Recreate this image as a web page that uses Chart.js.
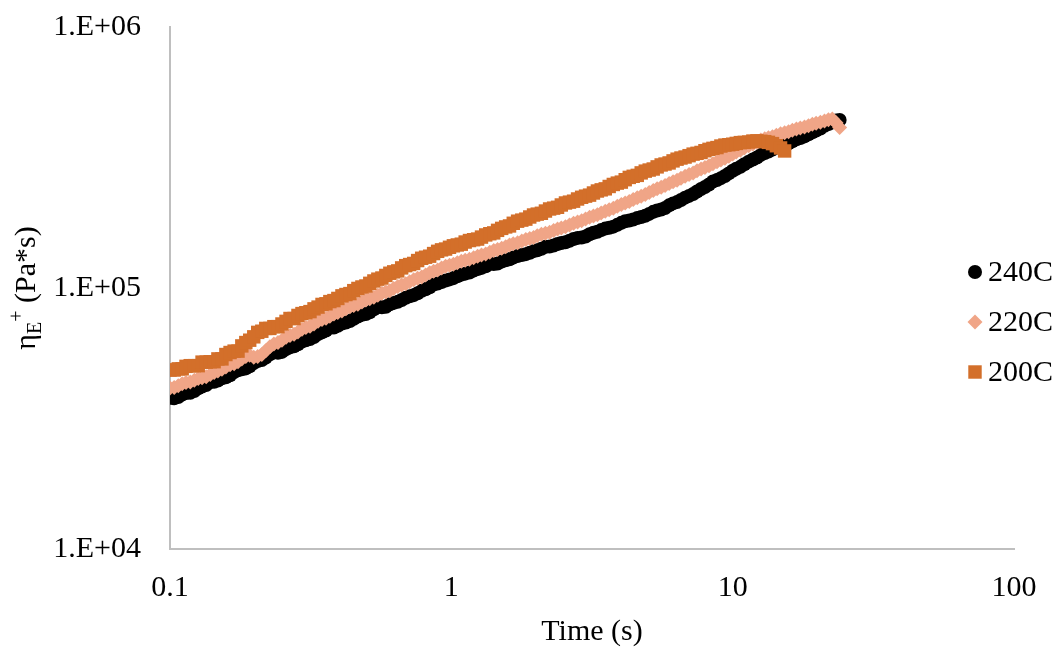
<!DOCTYPE html>
<html>
<head>
<meta charset="utf-8">
<script src="https://cdn.jsdelivr.net/npm/chart.js@4.4.1/dist/chart.umd.min.js"></script>
<style>
  html, body { margin: 0; padding: 0; background: #fff; }
</style>
</head>
<body>
<canvas id="chart" width="1061" height="649"></canvas>
<script>
const times = [
  0.1, 0.1035, 0.107, 0.1105, 0.114, 0.118, 0.122, 0.126, 0.13, 0.1345, 0.139, 0.1435, 0.148, 0.153, 0.158, 0.1635, 0.169, 0.1745, 0.18, 0.186,
  0.192, 0.1985, 0.205, 0.212, 0.219, 0.2265, 0.234, 0.242, 0.25, 0.2585, 0.267, 0.276, 0.285, 0.2945, 0.304, 0.3145, 0.325, 0.336, 0.347, 0.3585,
  0.37, 0.3825, 0.395, 0.4085, 0.422, 0.436, 0.45, 0.4655, 0.481, 0.497, 0.513, 0.5305, 0.548, 0.5665, 0.585, 0.6045, 0.624, 0.645, 0.666, 0.6885,
  0.711, 0.735, 0.759, 0.7845, 0.81, 0.8375, 0.865, 0.894, 0.923, 0.954, 0.985, 1.017, 1.05, 1.085, 1.12, 1.16, 1.2, 1.24, 1.28, 1.325,
  1.37, 1.415, 1.46, 1.51, 1.56, 1.61, 1.66, 1.72, 1.78, 1.84, 1.9, 1.96, 2.02, 2.09, 2.16, 2.235, 2.31, 2.385, 2.46, 2.545,
  2.63, 2.72, 2.81, 2.905, 3.0, 3.1, 3.2, 3.305, 3.41, 3.525, 3.64, 3.765, 3.89, 4.02, 4.15, 4.29, 4.43, 4.58, 4.73, 4.89,
  5.05, 5.22, 5.39, 5.57, 5.75, 5.945, 6.14, 6.345, 6.55, 6.775, 7.0, 7.235, 7.47, 7.72, 7.97, 8.24, 8.51, 8.795, 9.08, 9.385,
  9.69, 10.0, 10.3, 10.65, 11.0, 11.4, 11.8, 12.2, 12.6, 13.0, 13.4, 13.85, 14.3, 14.8, 15.3, 15.8, 16.3, 16.85, 17.4, 18.0,
  18.6, 19.2, 19.8, 20.5, 21.2, 21.9, 22.6, 23.3, 24.0
];
const visc240 = [
  38000, 37800, 38200, 39100, 39600, 39700, 40300, 41300, 41900, 42500,
  43600, 43700, 44200, 45100, 45500, 46300, 47600, 48400, 48800, 49200,
  50100, 51600, 52500, 53000, 54100, 55700, 56800, 56500, 56900, 58300,
  59200, 59800, 60900, 62300, 63100, 63700, 64900, 66600, 67600, 68700,
  70400, 70600, 71600, 73100, 73800, 74700, 76200, 77800, 78900, 79500,
  80700, 82900, 84600, 84300, 84800, 86600, 87700, 88500, 89900, 91700,
  92900, 93900, 95500, 97500, 98900, 100600, 103200, 104000, 105400, 106900,
  107900, 109100, 110900, 112500, 113500, 114700, 116700, 118300, 119400, 121200,
  123800, 123500, 124100, 126200, 127600, 128900, 130900, 132600, 133700, 134800,
  136500, 138400, 139600, 141300, 143800, 144300, 145500, 147400, 148600, 149800,
  151700, 154000, 155600, 156200, 157600, 160700, 162900, 164300, 166700, 168900,
  170200, 171800, 174600, 177700, 180100, 181200, 182800, 185300, 187100, 189200,
  192300, 195800, 198200, 199800, 202600, 207300, 210900, 213400, 217300, 221900,
  225400, 229100, 234400, 239600, 243800, 249100, 256000, 259200, 263600, 268700,
  274800, 281200, 286400, 291200, 297900, 304800, 310500, 316100, 323600, 329200,
  333400, 339300, 347000, 351500, 354000, 358600, 364800, 371200, 375800, 381000,
  388200, 395300, 400900, 408400, 418000, 425100, 431000, 437900, 440600
];
const visc220 = [
  41400, 41600, 42200, 43000, 43400, 43600, 44300, 45000, 45300, 45700,
  46600, 47500, 48100, 48800, 49800, 50800, 51300, 52200, 53500, 54600,
  55200, 54300, 54700, 55600, 57500, 59600, 61000, 61800, 63100, 64700,
  65800, 66500, 67900, 69500, 70500, 71300, 72800, 74600, 75700, 76500,
  78000, 79500, 80500, 81600, 83200, 84700, 85700, 86700, 88300, 89900,
  91000, 92100, 93800, 95500, 96600, 97700, 99500, 101300, 102600, 103800,
  105700, 107600, 108900, 110200, 112200, 114300, 115900, 117300, 119400, 121100,
  122200, 123300, 125000, 126600, 127600, 128800, 130600, 132400, 133700, 135000,
  137100, 139100, 140600, 141900, 143900, 146000, 147600, 149100, 151400, 153400,
  154900, 156300, 158500, 160700, 162200, 163700, 166000, 168200, 169800, 171500,
  174200, 176900, 179100, 181000, 183700, 186500, 188800, 190700, 193600, 196800,
  199500, 202100, 205600, 208900, 211800, 214500, 218300, 221900, 224900, 228100,
  232300, 236300, 239900, 243000, 247200, 251500, 255300, 258900, 263600, 268300,
  272300, 276000, 281200, 285900, 289700, 293900, 299200, 304500, 309000, 313800,
  319900, 326400, 331900, 337000, 343600, 350500, 356500, 362000, 369000, 373300,
  376700, 380000, 384600, 389600, 393600, 397000, 401800, 406400, 410200, 414000,
  418800, 423700, 427600, 431500, 436500, 441200, 444600, 430000, 412100
];
const visc200 = [
  48500, 48500, 49000, 49000, 50100, 50400, 50400, 50400, 52000, 52000,
  52200, 52200, 53500, 53500, 55600, 56600, 57300, 57300, 60000, 61800,
  63100, 65000, 67600, 68300, 70000, 70000, 71100, 71100, 72800, 74500,
  76400, 76400, 78500, 79800, 80400, 81200, 83200, 84500, 86500, 87000,
  88700, 89500, 91200, 93300, 94400, 95200, 97700, 99600, 100900, 101800,
  104200, 106400, 108100, 109200, 111700, 113900, 115300, 116300, 119400, 121800,
  123000, 124200, 127400, 130000, 131200, 132400, 135500, 138200, 140000, 141000,
  143200, 145100, 146200, 147200, 150000, 152000, 153100, 154000, 156700, 159700,
  161400, 162600, 166300, 169200, 171400, 172900, 177000, 180300, 182000, 183600,
  187100, 190400, 191900, 193300, 197200, 200800, 202300, 203800, 208000, 211700,
  213300, 215100, 219300, 222600, 224900, 226900, 231200, 235300, 237700, 239800,
  244900, 249300, 252300, 254500, 260000, 265300, 267900, 270100, 276100, 280400,
  283100, 285700, 291100, 296100, 298500, 301400, 306900, 311600, 314800, 317500,
  321400, 325800, 328100, 330600, 335700, 339800, 342800, 345200, 349900, 352800,
  354000, 355600, 358100, 360600, 361400, 362400, 365600, 366200, 364800, 363600,
  361400, 357400, 350800, 344000, 335000
];
const seriesLabels = ["240C", "220C", "200C"];
const xTicks = [0.1, 1, 10, 100];
const yTicks = [1e4, 1e5, 1e6];
const yTickLabels = ["1.E+04", "1.E+05", "1.E+06"];

const serif = "'Liberation Serif', 'Times New Roman', serif";

function toPoints(vals) {
  return vals.map((v, i) => ({x: times[i], y: v}));
}

// legend drawn by hand: Excel puts it inside the right margin, centred on the chart
const sideLegend = {
  id: "sideLegend",
  afterDraw(chart) {
    const ctx = chart.ctx;
    ctx.save();
    chart.data.datasets.forEach((ds, i) => {
      const y = 272 + i * 50;
      ctx.fillStyle = ds.backgroundColor;
      ctx.strokeStyle = ds.backgroundColor;
      Chart.helpers.drawPoint(ctx, {pointStyle: ds.pointStyle, radius: ds.pointRadius, rotation: 0, borderWidth: 0}, 975, y);
      ctx.fillStyle = "#000";
      ctx.font = "30px " + serif;
      ctx.textAlign = "left";
      ctx.textBaseline = "middle";
      ctx.fillText(ds.label, 988, y + 1);
    });
    ctx.restore();
  }
};

// y title needs a subscript and a superscript
const yTitle = {
  id: "yTitle",
  afterDraw(chart) {
    const ctx = chart.ctx;
    const parts = [
      {t: "η", size: 30, dy: 0},
      {t: "E", size: 20, dy: 6},
      {t: "+", size: 20, dy: -12},
      {t: " (Pa*s)", size: 30, dy: 0}
    ];
    ctx.save();
    let total = 0;
    parts.forEach(p => {
      ctx.font = p.size + "px " + serif;
      p.w = ctx.measureText(p.t).width;
      total += p.w;
    });
    ctx.translate(35, 288);
    ctx.rotate(-Math.PI / 2);
    ctx.fillStyle = "#000";
    ctx.textBaseline = "alphabetic";
    ctx.textAlign = "left";
    let x = -total / 2;
    parts.forEach(p => {
      ctx.font = p.size + "px " + serif;
      ctx.fillText(p.t, x, p.dy);
      x += p.w;
    });
    ctx.restore();
  }
};

new Chart(document.getElementById("chart"), {
  type: "scatter",
  data: {
    datasets: [
      {
        label: seriesLabels[0],
        data: toPoints(visc240),
        backgroundColor: "#000000",
        borderColor: "#000000",
        borderWidth: 0,
        pointStyle: "circle",
        pointRadius: 7,
        order: 3
      },
      {
        label: seriesLabels[1],
        data: toPoints(visc220),
        backgroundColor: "#F0A587",
        borderColor: "#F0A587",
        borderWidth: 0,
        pointStyle: "rectRot",
        pointRadius: 7.5,
        order: 2
      },
      {
        label: seriesLabels[2],
        data: toPoints(visc200),
        backgroundColor: "#D36F2A",
        borderColor: "#D36F2A",
        borderWidth: 0,
        pointStyle: "rect",
        pointRadius: 9.5,
        order: 1
      }
    ]
  },
  options: {
    responsive: false,
    devicePixelRatio: 1,
    animation: false,
    layout: {padding: {top: 27, right: 47, left: 0, bottom: 0}},
    plugins: {
      legend: {display: false},
      tooltip: {enabled: false}
    },
    scales: {
      x: {
        type: "logarithmic",
        position: "bottom",
        min: 0.1,
        max: 100,
        afterBuildTicks: s => { s.ticks = xTicks.map(v => ({value: v})); },
        afterFit: s => { s.height = 100; },
        grid: {display: false, drawTicks: false},
        border: {display: true, color: "#BFBFBF", width: 2},
        ticks: {
          padding: 21,
          color: "#000",
          font: {family: serif, size: 30},
          maxRotation: 0,
          callback: v => String(v)
        },
        title: {
          display: true,
          text: "Time (s)",
          color: "#000",
          font: {family: serif, size: 30},
          padding: {top: 0, bottom: -1}
        }
      },
      y: {
        type: "logarithmic",
        min: 1e4,
        max: 1e6,
        afterBuildTicks: s => { s.ticks = yTicks.map(v => ({value: v})); },
        // tick padding would otherwise push the plot top down
        afterFit: s => { s.width = 170; s.paddingTop = 0; s.paddingBottom = 0; },
        grid: {display: false, drawTicks: false},
        border: {display: true, color: "#BFBFBF", width: 2},
        ticks: {
          padding: 29,
          color: "#000",
          font: {family: serif, size: 30},
          callback: v => yTickLabels[yTicks.indexOf(v)] || ""
        }
      }
    }
  },
  plugins: [sideLegend, yTitle]
});
</script>
</body>
</html>
